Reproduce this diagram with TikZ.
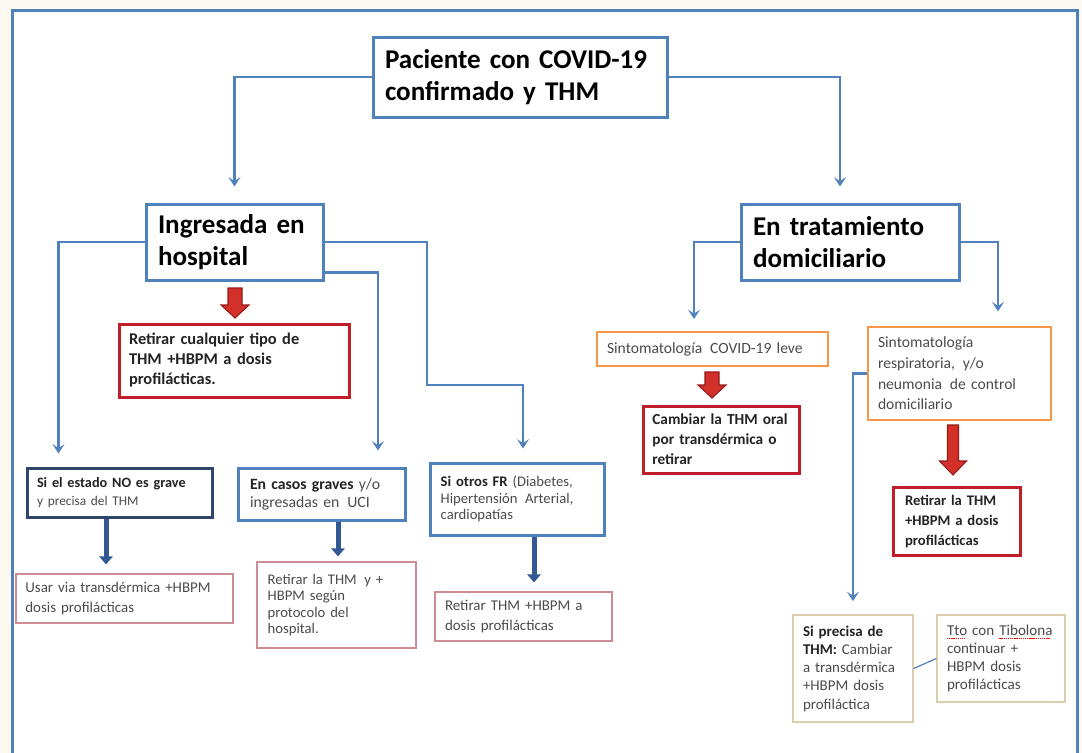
\documentclass[tikz,border=0pt]{standalone}
\usepackage{fontspec}
\setmainfont{Carlito}
\usetikzlibrary{arrows.meta,calc}

\definecolor{ofblue}{RGB}{79,129,189}
\definecolor{navyc}{RGB}{44,70,110}
\definecolor{darkarrow}{RGB}{52,88,148}
\definecolor{boxred}{RGB}{192,30,40}
\definecolor{arrred}{RGB}{212,48,42}
\definecolor{arrredd}{RGB}{150,25,25}
\definecolor{ofor}{RGB}{247,150,70}
\definecolor{pinkline}{RGB}{205,140,150}
\definecolor{beigec}{RGB}{222,205,170}
\definecolor{txt}{RGB}{75,75,75}
\definecolor{txtb}{RGB}{35,35,35}
\definecolor{creamc}{RGB}{252,249,240}

\newcommand\spellmark[1]{\setbox0\hbox{#1}\rlap{\hbox to \wd0{\color{red}\leaders\hbox{\rule[-2.3pt]{1pt}{0.6pt}\hskip0.6pt}\hfill}}\box0\relax}
\newcommand\bfx[1]{{\bfseries\color{txtb}#1}}
\newcommand\blockarr[6]{\filldraw[redarrow] ({#1-#4/2},#2) -- ({#1+#4/2},#2) -- ({#1+#4/2},{#3-#6}) -- ({#1+#5/2},{#3-#6}) -- (#1,#3) -- ({#1-#5/2},{#3-#6}) -- ({#1-#4/2},{#3-#6}) -- cycle;}

\begin{document}
\begin{tikzpicture}[x=0.75pt,y=-0.75pt,
  every node/.style={text=txt},
  sz/.style n args={4}{rectangle, align=left, minimum width=#1pt, minimum height=#2pt, text width=#3pt, inner xsep=#4pt, inner ysep=2pt},
  fs/.style 2 args={font=\fontsize{#1}{#2}\selectfont},
  mainb/.style={draw=ofblue, line width=2.25pt, text=black, font=\fontsize{20.3}{24}\selectfont\bfseries},
  redb/.style={draw=boxred, line width=2.25pt, text=txtb},
  orb/.style={draw=ofor, line width=1.5pt},
  pinkb/.style={draw=pinkline, line width=0.9pt},
  beigeb/.style={draw=beigec, line width=0.9pt},
  blueb/.style={draw=ofblue, line width=2.25pt},
  navyb/.style={draw=navyc, line width=2.25pt},
  conn/.style={draw=ofblue, line width=2pt, -{Stealth[length=7pt,width=9pt,inset=3pt]}},
  thinconn/.style={draw=ofblue, line width=0.9pt},
  thk/.style={draw=darkarrow, line width=3.75pt, -{Triangle[length=6pt,width=10pt]}},
  redarrow/.style={fill=arrred, draw=arrredd, line width=0.8pt},
  frame/.style={draw=ofblue, line width=2.25pt}
]
\useasboundingbox (0,0) rectangle (1082,753);
\fill[creamc] (0,0) rectangle (1082,753);
\fill[white] (12,10) rectangle (1077,753);
\draw[frame] (12,753) -- (12,10) -- (1077,10) -- (1077,753);

% top level
\node[mainb, sz={220.5}{60}{202.5}{9}] (title) at (520,77) {Paciente con COVID-19\\confirmado y THM};
\node[mainb, sz={132.75}{57}{114.75}{9}] (hosp) at (234.5,242) {Ingresada en\\hospital};
\node[mainb, sz={163.5}{57}{145.5}{9}] (dom) at (850,242) {En tratamiento\\domiciliario};

% hospital branch
\node[redb, sz={172.5}{54.75}{157.5}{7.5}, font=\fontsize{12.3}{15}\selectfont\bfseries] (red1) at (234,360.5) {Retirar~cualquier~tipo~de\\THM~+HBPM~a~dosis\\profilácticas.};
\node[navyb, sz={138.75}{36.75}{123.75}{7}, fs={10.7}{14}] (nog) at (119.5,492.5) {\bfx{Si~el~estado~NO~es~grave}\\{\fontsize{10}{11}\selectfont y~precisa~del~THM}};
\node[blueb, sz={125.25}{39}{107.25}{9}, fs={11.8}{13.5}] (grav) at (321.5,494) {\bfx{En~casos~graves}~y/o\\ingresadas~en\hspace{2pt}~UCI};
\node[blueb, sz={130.5}{54}{114.5}{8}, fs={11}{12.6}] (ofr) at (517,499) {\bfx{Si~otros~FR}~(Diabetes,\\Hipertensión\hspace{2pt}~Arterial,\\cardiopatías};
\node[pinkb, sz={162.75}{36.75}{148.75}{7}, fs={11.2}{14.3}] (usar) at (124.5,598.5) {Usar~via~transdérmica~+HBPM\\dosis profilácticas};
\node[pinkb, sz={119.25}{64.5}{103.25}{8}, fs={11}{12.3}] (rty) at (336.5,605) {Retirar~la~THM\hspace{2pt}~y~+\\HBPM según\\protocolo del\\hospital.};
\node[pinkb, sz={132.75}{36.75}{117.75}{7.5}, fs={11.2}{14.3}] (rt) at (523.5,616.5) {Retirar~THM~+HBPM~a\\dosis profilácticas};

% domiciliario branch
\node[orb, sz={173.25}{25.5}{158.25}{7.5}, fs={11.7}{14}] (or1) at (712.5,349) {Sintomatología\hspace{2pt}~COVID-19~leve};
\node[redb, sz={117}{50.25}{103}{7}, font=\fontsize{11.5}{15}\selectfont\bfseries] (red2) at (721,439.5) {Cambiar~la~THM~oral\\por~transdérmica~o\\retirar};
\node[orb, sz={137.25}{69.75}{122.25}{7.5}, fs={11.7}{15.5}] (or2) at (959.5,373.5) {Sintomatología\\respiratoria,\hspace{2pt}~y/o\\neumonia\hspace{2pt}~de~control\\domiciliario};
\node[redb, sz={95.25}{51}{77.25}{9}, font=\fontsize{11}{15}\selectfont\bfseries] (red3) at (956.5,521) {Retirar~la~THM\\+HBPM~a~dosis\\profilácticas};
\node[beigeb, sz={90}{80.25}{75}{7.5}, fs={11.2}{13.7}] (sip) at (853,668.5) {\bfx{Si~precisa~de}\\\bfx{THM:}~Cambiar\\a~transdérmica\\+HBPM~dosis\\profiláctica};
\node[beigeb, sz={96}{65.25}{81}{7.5}, fs={11.3}{13.5}] (tib) at (1001,658.5) {\spellmark{Tto}~con~\spellmark{Tibolona}\\continuar~+\\HBPM~dosis\\profilácticas};

% connectors
\draw[conn, shorten >=12pt] (title.west) -| (hosp.north);
\draw[conn, shorten >=12pt] (title.east) -| ($(dom.north)+(-10,0)$);
\draw[conn, shorten >=9.75pt] (hosp.west) -| ($(nog.north west)+(33,0)$);
\draw[conn, shorten >=9.75pt] (hosp.east) -| (427,385) -| ($(ofr.north)+(6,0)$);
\draw[conn, shorten >=12pt] ([yshift=-23pt]hosp.east) -| ($(grav.north)+(56.5,0)$);
\draw[conn, shorten >=9pt] (dom.west) -| ($(or1.north)+(-18.5,0)$);
\draw[conn, shorten >=11pt] (dom.east) -| ($(or2.north)+(38.5,0)$);
\draw[conn, shorten >=10pt] (or2.west) -| (sip.north);
\draw[thinconn] (sip.east) -- (tib.west);

% thick dark arrows
\coordinate (t1) at ($(nog.south)+(-13.5,0)$);
\draw[thk, shorten >=6.75pt] (t1) -- (t1 |- usar.north);
\coordinate (t2) at ($(grav.south)+(16.5,0)$);
\draw[thk, shorten >=3.75pt] (t2) -- (t2 |- rty.north);
\coordinate (t3) at ($(ofr.south)+(17,0)$);
\draw[thk, shorten >=6.75pt] (t3) -- (t3 |- rt.north);

% red block arrows
\blockarr{235}{288}{318}{14}{28}{13}
\blockarr{712}{372}{398}{14}{28}{13}
\blockarr{953}{425}{475}{11}{27}{14}
\end{tikzpicture}
\end{document}
